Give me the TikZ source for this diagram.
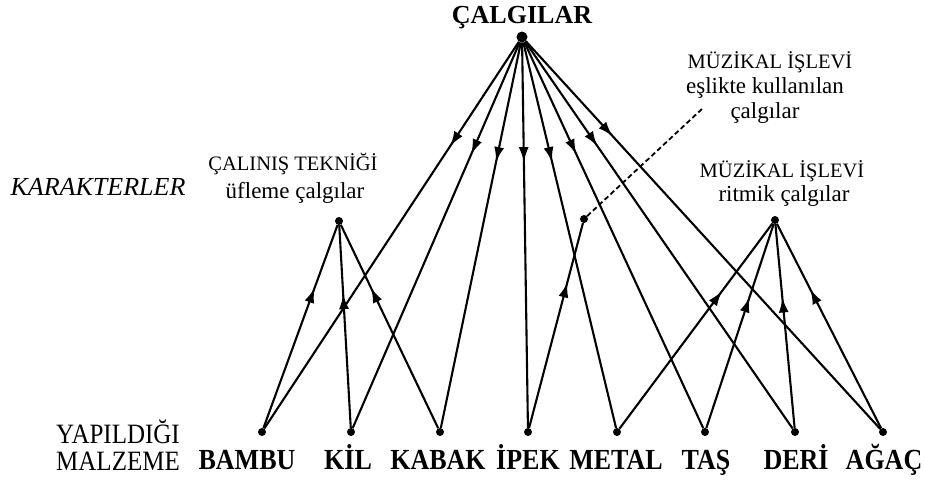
\documentclass[tikz,border=0pt]{standalone}
\usepackage{fontspec}
\setmainfont{Liberation Serif}
\usetikzlibrary{arrows.meta,decorations.markings}
\newcommand{\vstretch}[1]{\scalebox{1}[1.12]{#1}}
\tikzset{
  pdot/.style={circle,fill=black,inner sep=0pt,minimum size=8pt},
  topdot/.style={circle,fill=black,inner sep=0pt,minimum size=11pt},
  link/.style={line width=2.1pt},
  upar/.style={link,postaction={decorate},decoration={markings,mark=at position #1 with {\arrow{Latex[length=15pt,width=10pt]}}}},
  dashlink/.style={line width=1.8pt,dash pattern=on 5pt off 3pt},
  matl/.style={font=\fontsize{26}{28}\selectfont\bfseries,inner sep=0pt,anchor=base},
  capl/.style={font=\fontsize{20.5}{22}\selectfont,inner sep=0pt,anchor=base},
  lowl/.style={font=\fontsize{23}{25}\selectfont,inner sep=0pt,anchor=base},
  sidel/.style={font=\fontsize{25}{27}\selectfont,inner sep=0pt,anchor=base},
}
\begin{document}
\begin{tikzpicture}[x=1pt,y=-1pt]
\useasboundingbox (0,0) rectangle (925,479);
% dots
\node[topdot] (T) at (522,37) {};
\node[pdot] (L) at (339,221) {};
\node[pdot] (D) at (584,219) {};
\node[pdot] (R) at (775,220) {};
\node[pdot] (b1) at (262,432) {};
\node[pdot] (b2) at (351,432) {};
\node[pdot] (b3) at (440,432) {};
\node[pdot] (b4) at (528,432) {};
\node[pdot] (b5) at (617,432) {};
\node[pdot] (b6) at (705,432) {};
\node[pdot] (b7) at (795,432) {};
\node[pdot] (b8) at (883,432) {};
\coordinate (Dend) at (703,108);
% top edges
\draw[upar=0.27] (T) -- (b1);
\draw[upar=0.29] (T) -- (b2);
\draw[upar=0.31] (T) -- (b3);
\draw[upar=0.31] (T) -- (b4);
\draw[upar=0.31] (T) -- (b5);
\draw[upar=0.29] (T) -- (b6);
\draw[upar=0.27] (T) -- (b7);
\draw[upar=0.245] (T) -- (b8);
% left node edges
\draw[upar=0.69] (b1) -- (L);
\draw[upar=0.66] (b2) -- (L);
\draw[upar=0.69] (b3) -- (L);
% dashed node
\draw[upar=0.71] (b4) -- (D);
\draw[dashlink] (D) -- (Dend);
% right node edges
\draw[upar=0.67] (b5) -- (R);
\draw[upar=0.64] (b6) -- (R);
\draw[upar=0.64] (b7) -- (R);
\draw[upar=0.68] (b8) -- (R);
% texts
\node[matl] (tcalgilar) at (522,23) {ÇALGILAR};
\node[sidel,font=\fontsize{26}{28}\selectfont\itshape] (tkar) at (98,195) {KARAKTERLER};
\node[capl] (tcal) at (293,170) {ÇALINIŞ TEKNİĞİ};
\node[lowl] (tufl) at (295,198) {üfleme çalgılar};
\node[capl] (tmuz1) at (770,68) {MÜZİKAL İŞLEVİ};
\node[lowl] (tesl) at (765,93) {eşlikte kullanılan};
\node[lowl] (tcal1) at (765,118) {çalgılar};
\node[capl] (tmuz2) at (782,177) {MÜZİKAL İŞLEVİ};
\node[lowl] (trit) at (784,201) {ritmik çalgılar};
\node[sidel] (tyap) at (118,443) {\vstretch{YAPILDIĞI}};
\node[sidel] (tmal) at (118,470) {\vstretch{MALZEME}};
\node[matl] (l1) at (247,469) {\vstretch{BAMBU}};
\node[matl] (l2) at (348,469) {\vstretch{KİL}};
\node[matl] (l3) at (438,469) {\vstretch{KABAK}};
\node[matl] (l4) at (528,469) {\vstretch{İPEK}};
\node[matl] (l5) at (616,469) {\vstretch{METAL}};
\node[matl] (l6) at (706,469) {\vstretch{TAŞ}};
\node[matl] (l7) at (796,469) {\vstretch{DERİ}};
\node[matl] (l8) at (884,469) {\vstretch{AĞAÇ}};
\end{tikzpicture}
\end{document}
